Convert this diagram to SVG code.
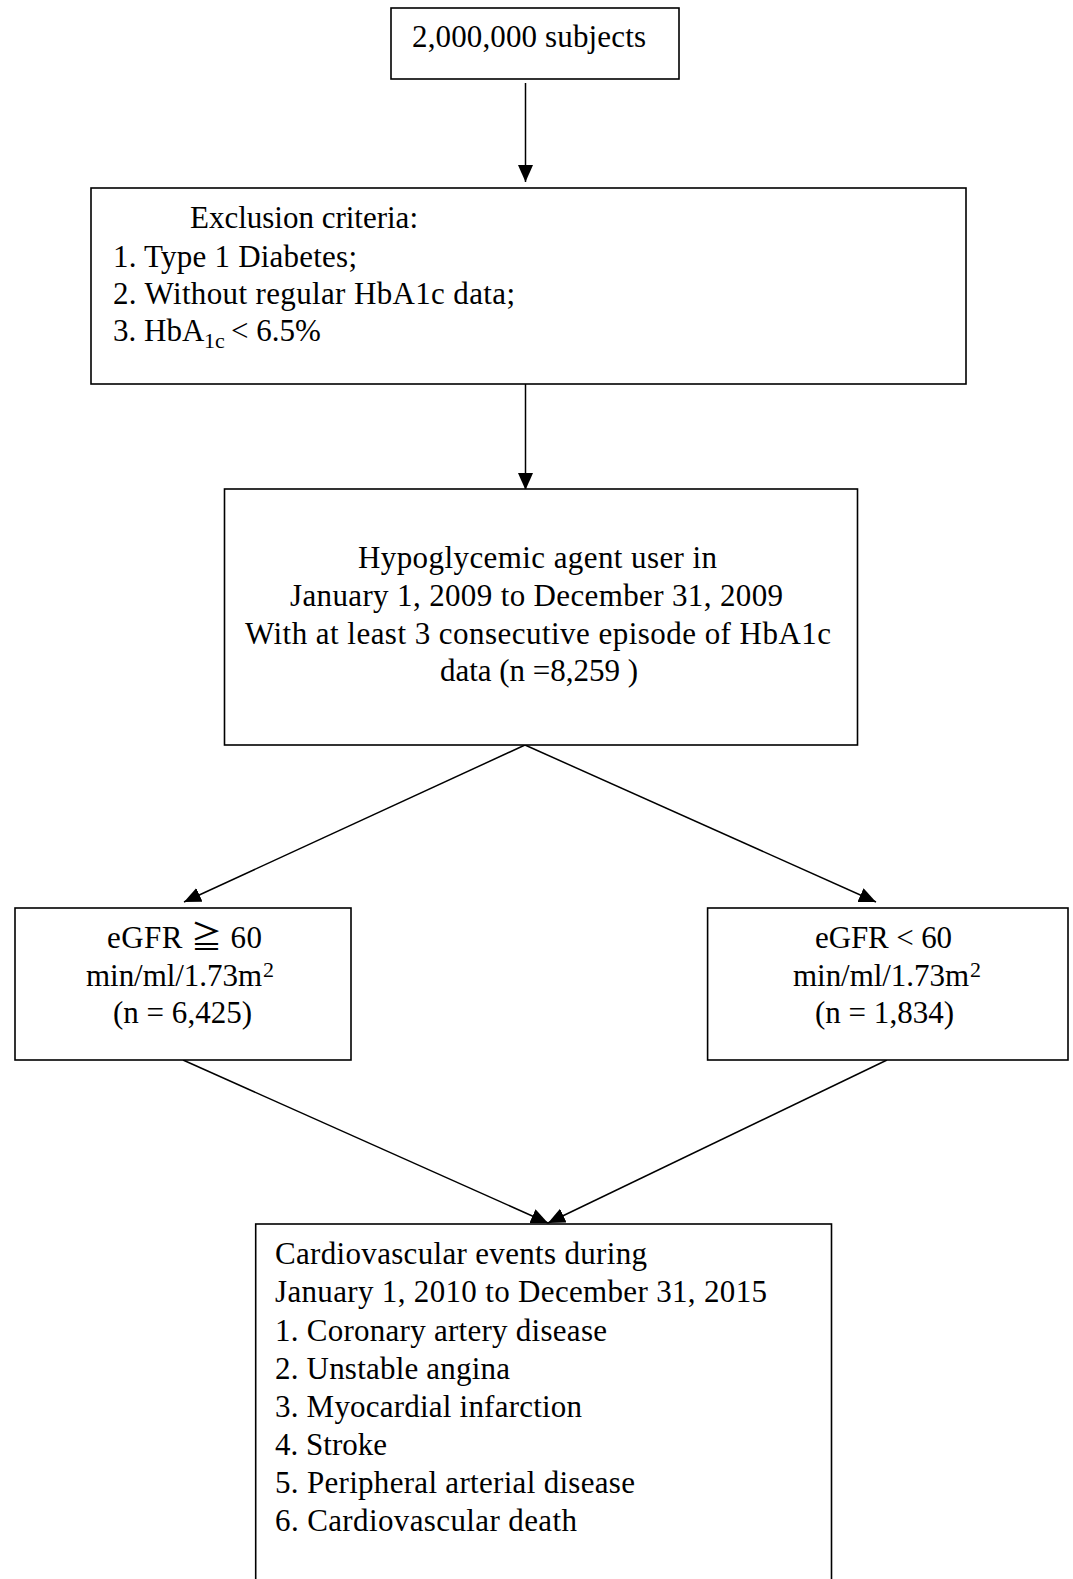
<svg xmlns="http://www.w3.org/2000/svg" width="1073" height="1579" viewBox="0 0 1073 1579">
<style>
.box{fill:#fff;stroke:#000;stroke-width:1.6}
.t{font-family:"Liberation Serif","Times New Roman","Noto Sans CJK TC",serif;font-size:31px;fill:#000}
.s{font-size:22px}
.ln{fill:none;stroke:#000;stroke-width:1.5;marker-end:url(#ah)}
</style>
<defs>
<marker id="ah" markerUnits="userSpaceOnUse" markerWidth="18" markerHeight="16" refX="17" refY="7.5" orient="auto">
<path d="M0,0 L17,7.5 L0,15 Z" fill="#000"/>
</marker>
</defs>
<rect width="1073" height="1579" fill="#fff"/>
<g id="connectors">
<line class="ln" x1="525.5" y1="83" x2="525.5" y2="182"/>
<line class="ln" x1="525.5" y1="384" x2="525.5" y2="490"/>
<line class="ln" x1="525" y1="745" x2="184" y2="902"/>
<line class="ln" x1="525" y1="745" x2="876" y2="902"/>
<line class="ln" x1="183" y1="1060" x2="548" y2="1223"/>
<line class="ln" x1="887" y1="1060" x2="548" y2="1223"/>
</g>
<g id="n1">
<rect class="box" x="391" y="8" width="288" height="71"/>
<text class="t" x="412" y="47" textLength="234" lengthAdjust="spacing">2,000,000 subjects</text>
</g>
<g id="n2">
<rect class="box" x="91" y="188" width="875" height="196"/>
<text class="t" x="190" y="228" textLength="228" lengthAdjust="spacing">Exclusion criteria:</text>
<text class="t" x="113" y="267" textLength="244" lengthAdjust="spacing">1. Type 1 Diabetes;</text>
<text class="t" x="113" y="304" textLength="402" lengthAdjust="spacing">2. Without regular HbA1c data;</text>
<text class="t" y="341"><tspan x="113">3. HbA</tspan><tspan class="s" x="204" y="348">1c</tspan><tspan x="231" y="341">&lt; 6.5%</tspan></text>
</g>
<g id="n3">
<rect class="box" x="224.5" y="489" width="633" height="256"/>
<text class="t" x="358" y="568" textLength="359" lengthAdjust="spacing">Hypoglycemic agent user in</text>
<text class="t" x="290" y="606" textLength="493" lengthAdjust="spacing">January 1, 2009 to December 31, 2009</text>
<text class="t" x="245" y="644" textLength="586" lengthAdjust="spacing">With at least 3 consecutive episode of HbA1c</text>
<text class="t" x="440" y="681" textLength="198" lengthAdjust="spacing">data (n =8,259 )</text>
</g>
<g id="n4">
<rect class="box" x="15" y="908" width="336" height="152"/>
<text class="t" x="107" y="948" textLength="155" lengthAdjust="spacing">eGFR ≧ 60</text>
<text class="t" y="986"><tspan x="86" textLength="176" lengthAdjust="spacing">min/ml/1.73m</tspan><tspan class="s" x="263" y="977">2</tspan></text>
<text class="t" x="113" y="1023" textLength="139" lengthAdjust="spacing">(n = 6,425)</text>
</g>
<g id="n5">
<rect class="box" x="707.6" y="908" width="360.4" height="152"/>
<text class="t" x="815" y="948" textLength="137" lengthAdjust="spacing">eGFR &lt; 60</text>
<text class="t" y="986"><tspan x="793" textLength="176" lengthAdjust="spacing">min/ml/1.73m</tspan><tspan class="s" x="970" y="977">2</tspan></text>
<text class="t" x="815" y="1023" textLength="139" lengthAdjust="spacing">(n = 1,834)</text>
</g>
<g id="n6">
<rect class="box" x="255.7" y="1224" width="575.8" height="400"/>
<text class="t" x="275" y="1264" textLength="372" lengthAdjust="spacing">Cardiovascular events during</text>
<text class="t" x="275" y="1302" textLength="492" lengthAdjust="spacing">January 1, 2010 to December 31, 2015</text>
<text class="t" x="275" y="1341" textLength="332" lengthAdjust="spacing">1. Coronary artery disease</text>
<text class="t" x="275" y="1379" textLength="235" lengthAdjust="spacing">2. Unstable angina</text>
<text class="t" x="275" y="1417" textLength="307" lengthAdjust="spacing">3. Myocardial infarction</text>
<text class="t" x="275" y="1455" textLength="112" lengthAdjust="spacing">4. Stroke</text>
<text class="t" x="275" y="1493" textLength="360" lengthAdjust="spacing">5. Peripheral arterial disease</text>
<text class="t" x="275" y="1531" textLength="302" lengthAdjust="spacing">6. Cardiovascular death</text>
</g>
</svg>
